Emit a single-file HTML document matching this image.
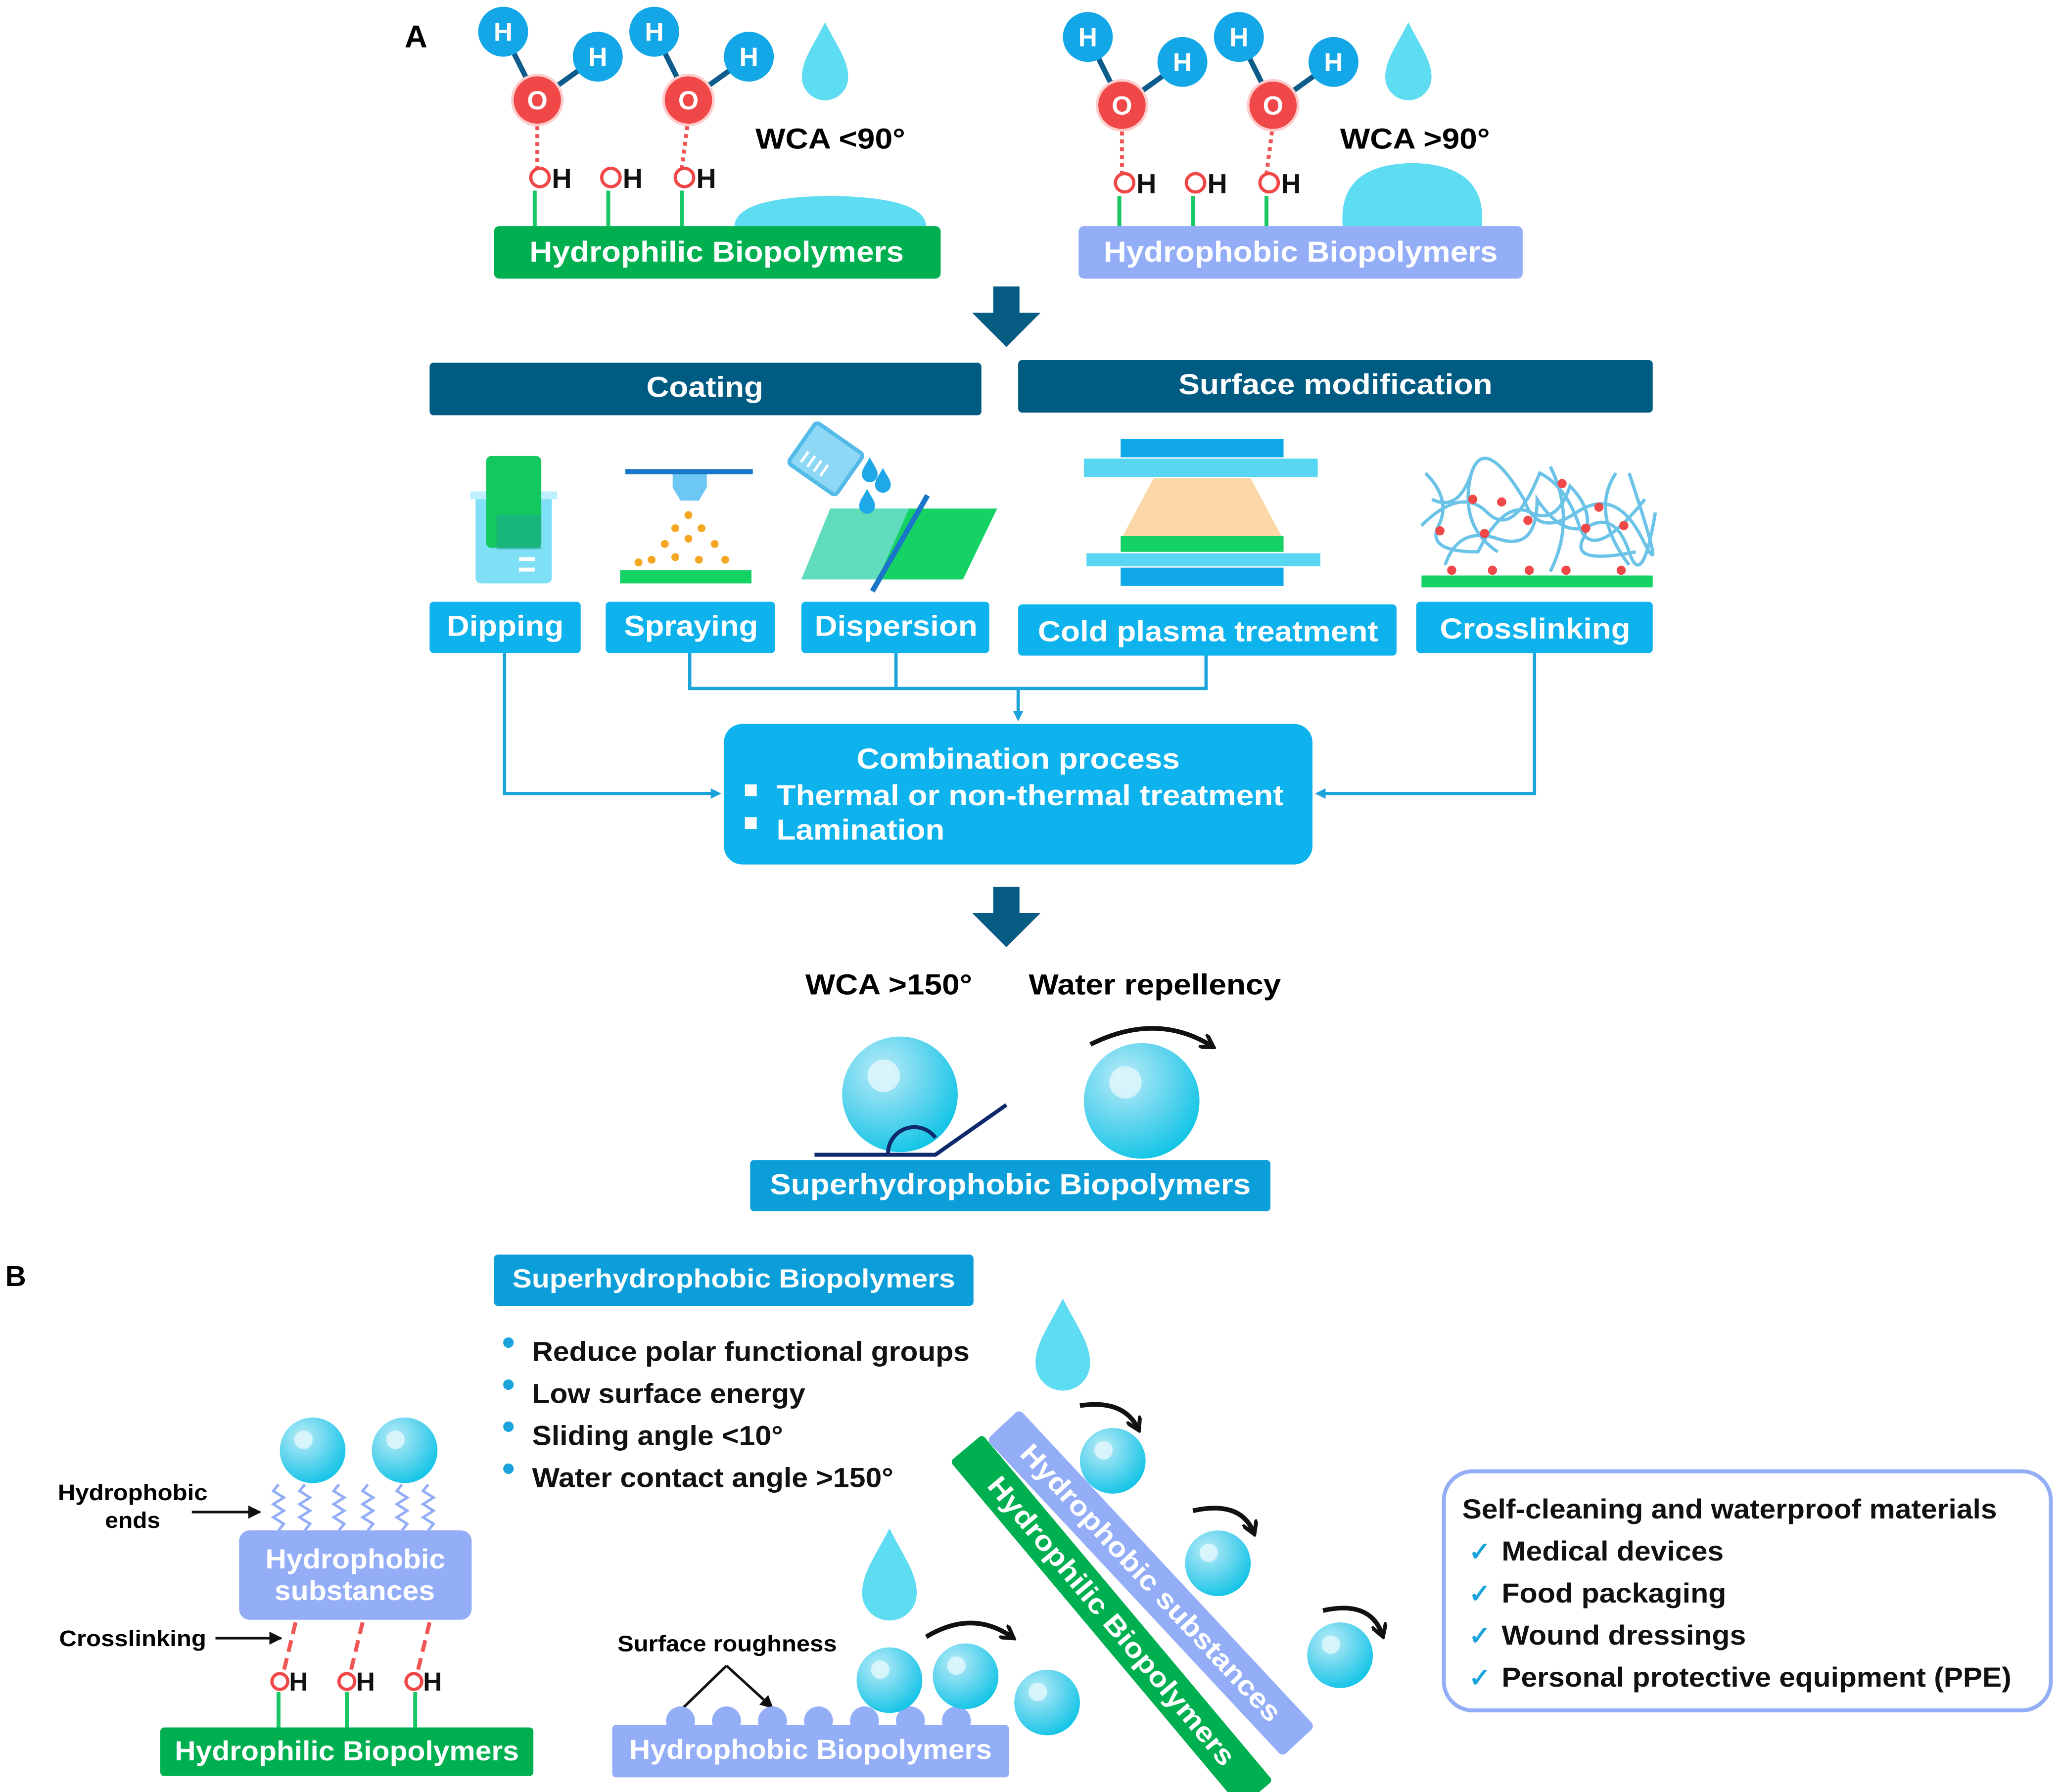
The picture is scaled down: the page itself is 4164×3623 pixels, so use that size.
<!DOCTYPE html>
<html><head><meta charset="utf-8"><style>
html,body{margin:0;padding:0;background:#fff}
svg{display:block}
text{font-family:"Liberation Sans",Arial,sans-serif;font-weight:bold}
</style></head><body>
<svg width="4164" height="3623" viewBox="0 0 1568 1364" xmlns="http://www.w3.org/2000/svg">
<defs>
<radialGradient id="sph" cx="0.35" cy="0.3" r="0.75"><stop offset="0" stop-color="#b8ecf7"/><stop offset="0.55" stop-color="#5fd4ee"/><stop offset="1" stop-color="#10c4e6"/></radialGradient>
<marker id="ab" markerWidth="8" markerHeight="8" refX="6" refY="4" orient="auto" markerUnits="userSpaceOnUse"><path d="M0,0 L8,4 L0,8z" fill="#1ba3dc"/></marker>
<marker id="ak" markerWidth="12" markerHeight="12" refX="8" refY="6" orient="auto" markerUnits="userSpaceOnUse"><path d="M0,0 L10,6 L0,12" fill="none" stroke="#111" stroke-width="3"/></marker>
<marker id="ak2" markerWidth="10" markerHeight="10" refX="9" refY="5" orient="auto" markerUnits="userSpaceOnUse"><path d="M0,0 L10,5 L0,10z" fill="#111"/></marker>
<g id="drop"><path d="M0,-32 C8,-16 16,-6 16,6 A16,16 0 0 1 -16,6 C-16,-6 -8,-16 0,-32z" fill="#5ddcf2"/></g>
<g id="ball"><circle r="25" fill="url(#sph)"/><circle cx="-7" cy="-8" r="7" fill="#e4f7fc" opacity="0.8"/></g>
</defs>

<text x="308" y="36" font-size="24">A</text>
<g id="mol">
<line x1="383" y1="24" x2="409" y2="76" stroke="#0d5c8c" stroke-width="4"/>
<line x1="455" y1="43" x2="409" y2="76" stroke="#0d5c8c" stroke-width="4"/>
<line x1="498" y1="24" x2="524" y2="76" stroke="#0d5c8c" stroke-width="4"/>
<line x1="570" y1="43" x2="524" y2="76" stroke="#0d5c8c" stroke-width="4"/>
<line x1="409" y1="90" x2="409" y2="128" stroke="#f05656" stroke-width="3" stroke-dasharray="3,3"/>
<line x1="524" y1="90" x2="519" y2="128" stroke="#f05656" stroke-width="3" stroke-dasharray="3,3"/>
<g fill="#14a7e8"><circle cx="383" cy="24" r="19"/><circle cx="455" cy="43" r="19"/><circle cx="498" cy="24" r="19"/><circle cx="570" cy="43" r="19"/></g>
<g fill="#fff" font-size="20" text-anchor="middle"><text x="383" y="31">H</text><text x="455" y="50">H</text><text x="498" y="31">H</text><text x="570" y="50">H</text></g>
<g fill="#f04848" stroke="#fcc" stroke-width="2"><circle cx="409" cy="76" r="19"/><circle cx="524" cy="76" r="19"/></g>
<g fill="#fff" font-size="20" text-anchor="middle"><text x="409" y="83">O</text><text x="524" y="83">O</text></g>
<g stroke="#19c864" stroke-width="3"><line x1="407" y1="145" x2="407" y2="172"/><line x1="463" y1="145" x2="463" y2="172"/><line x1="519" y1="145" x2="519" y2="172"/></g>
<g fill="none" stroke="#f04848" stroke-width="2.5"><circle cx="411" cy="135" r="7"/><circle cx="465" cy="135" r="7"/><circle cx="521" cy="135" r="7"/></g>
<g font-size="21" fill="#111"><text x="420" y="143">H</text><text x="474" y="143">H</text><text x="530" y="143">H</text></g>
</g>
<use href="#drop" transform="translate(628,52) scale(1.1)"/>
<text x="575" y="113" font-size="22" textLength="114" lengthAdjust="spacingAndGlyphs">WCA &lt;90°</text>
<path d="M559,172 Q560,150 632,149 Q704,150 705,172z" fill="#5ddcf2"/>
<rect x="376" y="172" width="340" height="40" rx="4" fill="#00b050"/>
<text x="403" y="199" font-size="22" fill="#fff" textLength="285" lengthAdjust="spacingAndGlyphs">Hydrophilic Biopolymers</text>

<use href="#mol" x="445" y="4"/>
<use href="#drop" transform="translate(1072,52) scale(1.1)"/>
<text x="1020" y="113" font-size="22" textLength="114" lengthAdjust="spacingAndGlyphs">WCA &gt;90°</text>
<path d="M1022,172 Q1018,125 1075,124 Q1132,125 1128,172z" fill="#5ddcf2"/>
<rect x="821" y="172" width="338" height="40" rx="4" fill="#93adf7"/>
<text x="840" y="199" font-size="22" fill="#fff" textLength="300" lengthAdjust="spacingAndGlyphs">Hydrophobic Biopolymers</text>

<path d="M756,218 h20 v20 h16 l-26,26 l-26,-26 h16z" fill="#075c84"/>

<rect x="327" y="276" width="420" height="40" rx="3" fill="#005b82"/>
<text x="492" y="302" font-size="22" fill="#fff" textLength="89" lengthAdjust="spacingAndGlyphs">Coating</text>
<rect x="775" y="274" width="483" height="40" rx="3" fill="#005b82"/>
<text x="897" y="300" font-size="22" fill="#fff" textLength="239" lengthAdjust="spacingAndGlyphs">Surface modification</text>

<rect x="362" y="374" width="58" height="70" rx="4" fill="#7fdff5"/>
<rect x="358" y="374" width="66" height="6" fill="#bdefff"/>
<rect x="370" y="347" width="42" height="70" rx="4" fill="#14c860"/>
<rect x="378" y="392" width="34" height="26" fill="#1aa890" opacity="0.6"/>
<rect x="395" y="424" width="12" height="3" fill="#fff"/><rect x="395" y="432" width="12" height="3" fill="#fff"/>

<line x1="476" y1="359" x2="573" y2="359" stroke="#1a76c8" stroke-width="4"/>
<path d="M512,361 h26 v10 l-6,10 h-14 l-6,-10z" fill="#6cc7f5"/>
<g fill="#f5a623"><circle cx="524" cy="392" r="3"/><circle cx="514" cy="402" r="3"/><circle cx="534" cy="402" r="3"/><circle cx="506" cy="414" r="3"/><circle cx="524" cy="410" r="3"/><circle cx="544" cy="414" r="3"/><circle cx="496" cy="426" r="3"/><circle cx="514" cy="424" r="3"/><circle cx="532" cy="426" r="3"/><circle cx="552" cy="426" r="3"/><circle cx="486" cy="428" r="3"/></g>
<rect x="472" y="434" width="100" height="10" fill="#14d264"/>

<path d="M632,387 h127 l-26,54 h-123z" fill="#14d264"/>
<path d="M632,387 h60 l-24,54 h-58z" fill="#7fdfe0" opacity="0.7"/>
<line x1="706" y1="377" x2="664" y2="450" stroke="#1a76c8" stroke-width="4"/>
<g transform="rotate(35 628 350)"><rect x="606" y="330" width="44" height="38" rx="3" fill="#8fd8f5" stroke="#54bbe8" stroke-width="3"/><g stroke="#fff" stroke-width="2"><line x1="614" y1="352" x2="614" y2="362"/><line x1="620" y1="352" x2="620" y2="362"/><line x1="626" y1="352" x2="626" y2="362"/><line x1="632" y1="352" x2="632" y2="362"/></g></g>
<path d="M662,348 c3,6 6,9 6,13 a6,6 0 0 1 -12,0 c0,-4 3,-7 6,-13z" fill="#1fa8e8"/>
<path d="M672,356 c3,6 6,9 6,13 a6,6 0 0 1 -12,0 c0,-4 3,-7 6,-13z" fill="#1fa8e8"/>
<path d="M660,372 c3,6 6,9 6,13 a6,6 0 0 1 -12,0 c0,-4 3,-7 6,-13z" fill="#1fa8e8"/>

<rect x="853" y="334" width="124" height="14" fill="#10a8e8"/>
<rect x="825" y="349" width="178" height="14" fill="#58d6f2"/>
<path d="M878,364 h74 l24,45 h-122z" fill="#fcd8a8"/>
<rect x="853" y="408" width="124" height="12" fill="#14d264"/>
<rect x="827" y="421" width="178" height="10" fill="#58d6f2"/>
<rect x="853" y="432" width="124" height="14" fill="#10a8e8"/>

<g fill="none" stroke="#6cc3e8" stroke-width="2.5">
<path d="M1085,360 q20,20 10,40 t30,20 q20,-40 40,-30 t30,-20 q20,20 10,40 t40,10"/>
<path d="M1082,400 q30,-30 50,-10 t40,-30 q20,10 30,40 t50,-20"/>
<path d="M1090,380 q20,10 30,-20 t40,20 q10,30 40,10 t50,20 t-10,-50"/>
<path d="M1100,430 q10,-30 40,-20 t30,-30 q20,30 40,20 t30,20 t20,-30"/>
<path d="M1120,360 q-10,40 20,60 M1180,355 q20,40 0,80 M1230,360 q-20,30 10,70"/>
</g>
<g fill="#f04848"><circle cx="1121" cy="380" r="3.5"/><circle cx="1143" cy="382" r="3.5"/><circle cx="1189" cy="368" r="3.5"/><circle cx="1217" cy="386" r="3.5"/><circle cx="1163" cy="396" r="3.5"/><circle cx="1130" cy="406" r="3.5"/><circle cx="1096" cy="404" r="3.5"/><circle cx="1207" cy="402" r="3.5"/><circle cx="1236" cy="400" r="3.5"/><circle cx="1105" cy="434" r="3.5"/><circle cx="1136" cy="434" r="3.5"/><circle cx="1164" cy="434" r="3.5"/><circle cx="1192" cy="434" r="3.5"/><circle cx="1234" cy="434" r="3.5"/></g>
<rect x="1082" y="438" width="176" height="9" fill="#14d264"/>

<g fill="#0eb2ec">
<rect x="327" y="458" width="115" height="39" rx="3"/>
<rect x="461" y="458" width="129" height="39" rx="3"/>
<rect x="610" y="458" width="143" height="39" rx="3"/>
<rect x="775" y="460" width="288" height="39" rx="3"/>
<rect x="1078" y="458" width="180" height="39" rx="3"/>
</g>
<g fill="#fff" font-size="22" lengthAdjust="spacingAndGlyphs">
<text x="340" y="484" textLength="89" lengthAdjust="spacingAndGlyphs">Dipping</text>
<text x="475" y="484" textLength="102" lengthAdjust="spacingAndGlyphs">Spraying</text>
<text x="620" y="484" textLength="124" lengthAdjust="spacingAndGlyphs">Dispersion</text>
<text x="790" y="488" textLength="259" lengthAdjust="spacingAndGlyphs">Cold plasma treatment</text>
<text x="1096" y="486" textLength="145" lengthAdjust="spacingAndGlyphs">Crosslinking</text>
</g>

<g fill="none" stroke="#1ba3dc" stroke-width="2.5">
<path d="M525,497 V524 H918 V499 M682,497 V524"/>
<path d="M775,524 V547" marker-end="url(#ab)"/>
<path d="M384,497 V604 H547" marker-end="url(#ab)"/>
<path d="M1168,497 V604 H1003" marker-end="url(#ab)"/>
</g>
<rect x="551" y="551" width="448" height="107" rx="14" fill="#0eb2ec"/>
<text x="652" y="585" font-size="22" fill="#fff" textLength="246" lengthAdjust="spacingAndGlyphs">Combination process</text>
<rect x="567" y="597" width="9" height="9" fill="#fff"/><rect x="567" y="622" width="9" height="9" fill="#fff"/>
<text x="591" y="613" font-size="22" fill="#fff" textLength="386" lengthAdjust="spacingAndGlyphs">Thermal or non-thermal treatment</text>
<text x="591" y="639" font-size="22" fill="#fff" textLength="128" lengthAdjust="spacingAndGlyphs">Lamination</text>

<path d="M756,675 h20 v20 h16 l-26,26 l-26,-26 h16z" fill="#075c84"/>
<text x="613" y="757" font-size="22" textLength="127" lengthAdjust="spacingAndGlyphs">WCA &gt;150°</text>
<text x="783" y="757" font-size="22" textLength="192" lengthAdjust="spacingAndGlyphs">Water repellency</text>
<use href="#ball" transform="translate(685,833) scale(1.76)"/>
<use href="#ball" transform="translate(869,838) scale(1.76)"/>
<path d="M620,879 H712 L766,841" fill="none" stroke="#0d2a6c" stroke-width="3"/>
<path d="M676,879 A20,20 0 0 1 712,866" fill="none" stroke="#0d2a6c" stroke-width="3"/>
<path d="M830,795 Q880,770 922,796" fill="none" stroke="#111" stroke-width="3.5" marker-end="url(#ak)"/>
<rect x="571" y="883" width="396" height="39" rx="3" fill="#0b9ed8"/>
<text x="586" y="909" font-size="22" fill="#fff" textLength="366" lengthAdjust="spacingAndGlyphs">Superhydrophobic Biopolymers</text>

<text x="4" y="979" font-size="22">B</text>
<rect x="376" y="955" width="365" height="39" rx="3" fill="#0b9ed8"/>
<text x="390" y="980" font-size="20" fill="#fff" textLength="337" lengthAdjust="spacingAndGlyphs">Superhydrophobic Biopolymers</text>
<g fill="#1ba3dc"><circle cx="387" cy="1022" r="4"/><circle cx="387" cy="1054" r="4"/><circle cx="387" cy="1086" r="4"/><circle cx="387" cy="1118" r="4"/></g>
<g font-size="21" fill="#111">
<text x="405" y="1036" textLength="333" lengthAdjust="spacingAndGlyphs">Reduce polar functional groups</text>
<text x="405" y="1068" textLength="208" lengthAdjust="spacingAndGlyphs">Low surface energy</text>
<text x="405" y="1100" textLength="191" lengthAdjust="spacingAndGlyphs">Sliding angle &lt;10°</text>
<text x="405" y="1132" textLength="275" lengthAdjust="spacingAndGlyphs">Water contact angle &gt;150°</text></g>

<use href="#ball" x="238" y="1104"/><use href="#ball" x="308" y="1104"/>
<g fill="none" stroke="#93adf7" stroke-width="2">
<path d="M212,1130 l-4,5 l8,5 l-8,5 l8,5 l-8,5 l8,5 l-4,5"/><path d="M232,1130 l-4,5 l8,5 l-8,5 l8,5 l-8,5 l8,5 l-4,5"/>
<path d="M258,1130 l-4,5 l8,5 l-8,5 l8,5 l-8,5 l8,5 l-4,5"/><path d="M280,1130 l-4,5 l8,5 l-8,5 l8,5 l-8,5 l8,5 l-4,5"/>
<path d="M306,1130 l-4,5 l8,5 l-8,5 l8,5 l-8,5 l8,5 l-4,5"/><path d="M326,1130 l-4,5 l8,5 l-8,5 l8,5 l-8,5 l8,5 l-4,5"/>
</g>
<text x="44" y="1142" font-size="17" textLength="114" lengthAdjust="spacingAndGlyphs">Hydrophobic</text>
<text x="80" y="1163" font-size="17" textLength="42" lengthAdjust="spacingAndGlyphs">ends</text>
<line x1="146" y1="1151" x2="198" y2="1151" stroke="#111" stroke-width="2" marker-end="url(#ak2)"/>
<rect x="182" y="1165" width="177" height="68" rx="8" fill="#93adf7"/>
<text x="202" y="1194" font-size="21" fill="#fff" textLength="137" lengthAdjust="spacingAndGlyphs">Hydrophobic</text>
<text x="209" y="1218" font-size="21" fill="#fff" textLength="122" lengthAdjust="spacingAndGlyphs">substances</text>
<text x="45" y="1253" font-size="17" textLength="112" lengthAdjust="spacingAndGlyphs">Crosslinking</text>
<line x1="164" y1="1247" x2="214" y2="1247" stroke="#111" stroke-width="2" marker-end="url(#ak2)"/>
<g stroke="#f05656" stroke-width="3" stroke-dasharray="9,5"><line x1="225" y1="1235" x2="216" y2="1272"/><line x1="276" y1="1235" x2="267" y2="1272"/><line x1="327" y1="1235" x2="318" y2="1272"/></g>
<g fill="none" stroke="#f04848" stroke-width="2.5"><circle cx="213" cy="1280" r="6"/><circle cx="264" cy="1280" r="6"/><circle cx="315" cy="1280" r="6"/></g>
<g font-size="20" fill="#111"><text x="220" y="1287">H</text><text x="271" y="1287">H</text><text x="322" y="1287">H</text></g>
<g stroke="#19c864" stroke-width="3"><line x1="212" y1="1288" x2="212" y2="1315"/><line x1="264" y1="1288" x2="264" y2="1315"/><line x1="316" y1="1288" x2="316" y2="1315"/></g>
<rect x="122" y="1315" width="284" height="37" rx="3" fill="#00b050"/>
<text x="133" y="1340" font-size="21" fill="#fff" textLength="262" lengthAdjust="spacingAndGlyphs">Hydrophilic Biopolymers</text>

<use href="#drop" transform="translate(677,1205) scale(1.3)"/>
<text x="470" y="1257" font-size="17" textLength="167" lengthAdjust="spacingAndGlyphs">Surface roughness</text>
<path d="M553,1268 L520,1300 M553,1268 L588,1300" stroke="#111" stroke-width="2" marker-end="url(#ak2)"/>
<g fill="#93adf7"><circle cx="518" cy="1310" r="11"/><circle cx="553" cy="1310" r="11"/><circle cx="588" cy="1310" r="11"/><circle cx="623" cy="1310" r="11"/><circle cx="658" cy="1310" r="11"/><circle cx="693" cy="1310" r="11"/><circle cx="728" cy="1310" r="11"/></g>
<rect x="466" y="1313" width="302" height="40" rx="3" fill="#93adf7"/>
<text x="479" y="1339" font-size="21" fill="#fff" textLength="276" lengthAdjust="spacingAndGlyphs">Hydrophobic Biopolymers</text>
<use href="#ball" x="677" y="1279"/><use href="#ball" x="735" y="1276"/><use href="#ball" x="797" y="1296"/>
<path d="M705,1246 Q740,1225 770,1246" fill="none" stroke="#111" stroke-width="3.5" marker-end="url(#ak)"/>

<g transform="translate(876,1205) rotate(47)">
<rect x="-165" y="-17" width="330" height="34" rx="4" fill="#93adf7"/>
<text x="-140" y="7" font-size="21" fill="#fff" textLength="280" lengthAdjust="spacingAndGlyphs">Hydrophobic substances</text>
</g>
<g transform="translate(846,1234) rotate(50)">
<rect x="-172" y="-16" width="344" height="32" rx="3" fill="#00b050"/>
<text x="-140" y="7" font-size="21" fill="#fff" textLength="280" lengthAdjust="spacingAndGlyphs">Hydrophilic Biopolymers</text>
</g>
<use href="#drop" transform="translate(809,1030) scale(1.3)"/>
<use href="#ball" x="847" y="1112"/><use href="#ball" x="927" y="1190"/><use href="#ball" x="1020" y="1260"/>
<path d="M822,1070 Q855,1065 866,1087" fill="none" stroke="#111" stroke-width="3.5" marker-end="url(#ak)"/>
<path d="M908,1150 Q944,1142 954,1166" fill="none" stroke="#111" stroke-width="3.5" marker-end="url(#ak)"/>
<path d="M1007,1226 Q1043,1218 1052,1244" fill="none" stroke="#111" stroke-width="3.5" marker-end="url(#ak)"/>

<rect x="1099" y="1120" width="462" height="182" rx="22" fill="#fff" stroke="#93adf7" stroke-width="3"/>
<text x="1113" y="1156" font-size="21" fill="#111" textLength="407" lengthAdjust="spacingAndGlyphs">Self-cleaning and waterproof materials</text>
<g font-size="20" fill="#1ba3dc"><text x="1118" y="1188">✓</text><text x="1118" y="1220">✓</text><text x="1118" y="1252">✓</text><text x="1118" y="1284">✓</text></g>
<g font-size="21" fill="#111">
<text x="1143" y="1188" textLength="169" lengthAdjust="spacingAndGlyphs">Medical devices</text>
<text x="1143" y="1220" textLength="171" lengthAdjust="spacingAndGlyphs">Food packaging</text>
<text x="1143" y="1252" textLength="186" lengthAdjust="spacingAndGlyphs">Wound dressings</text>
<text x="1143" y="1284" textLength="388" lengthAdjust="spacingAndGlyphs">Personal protective equipment (PPE)</text></g>
</svg>
</body></html>
